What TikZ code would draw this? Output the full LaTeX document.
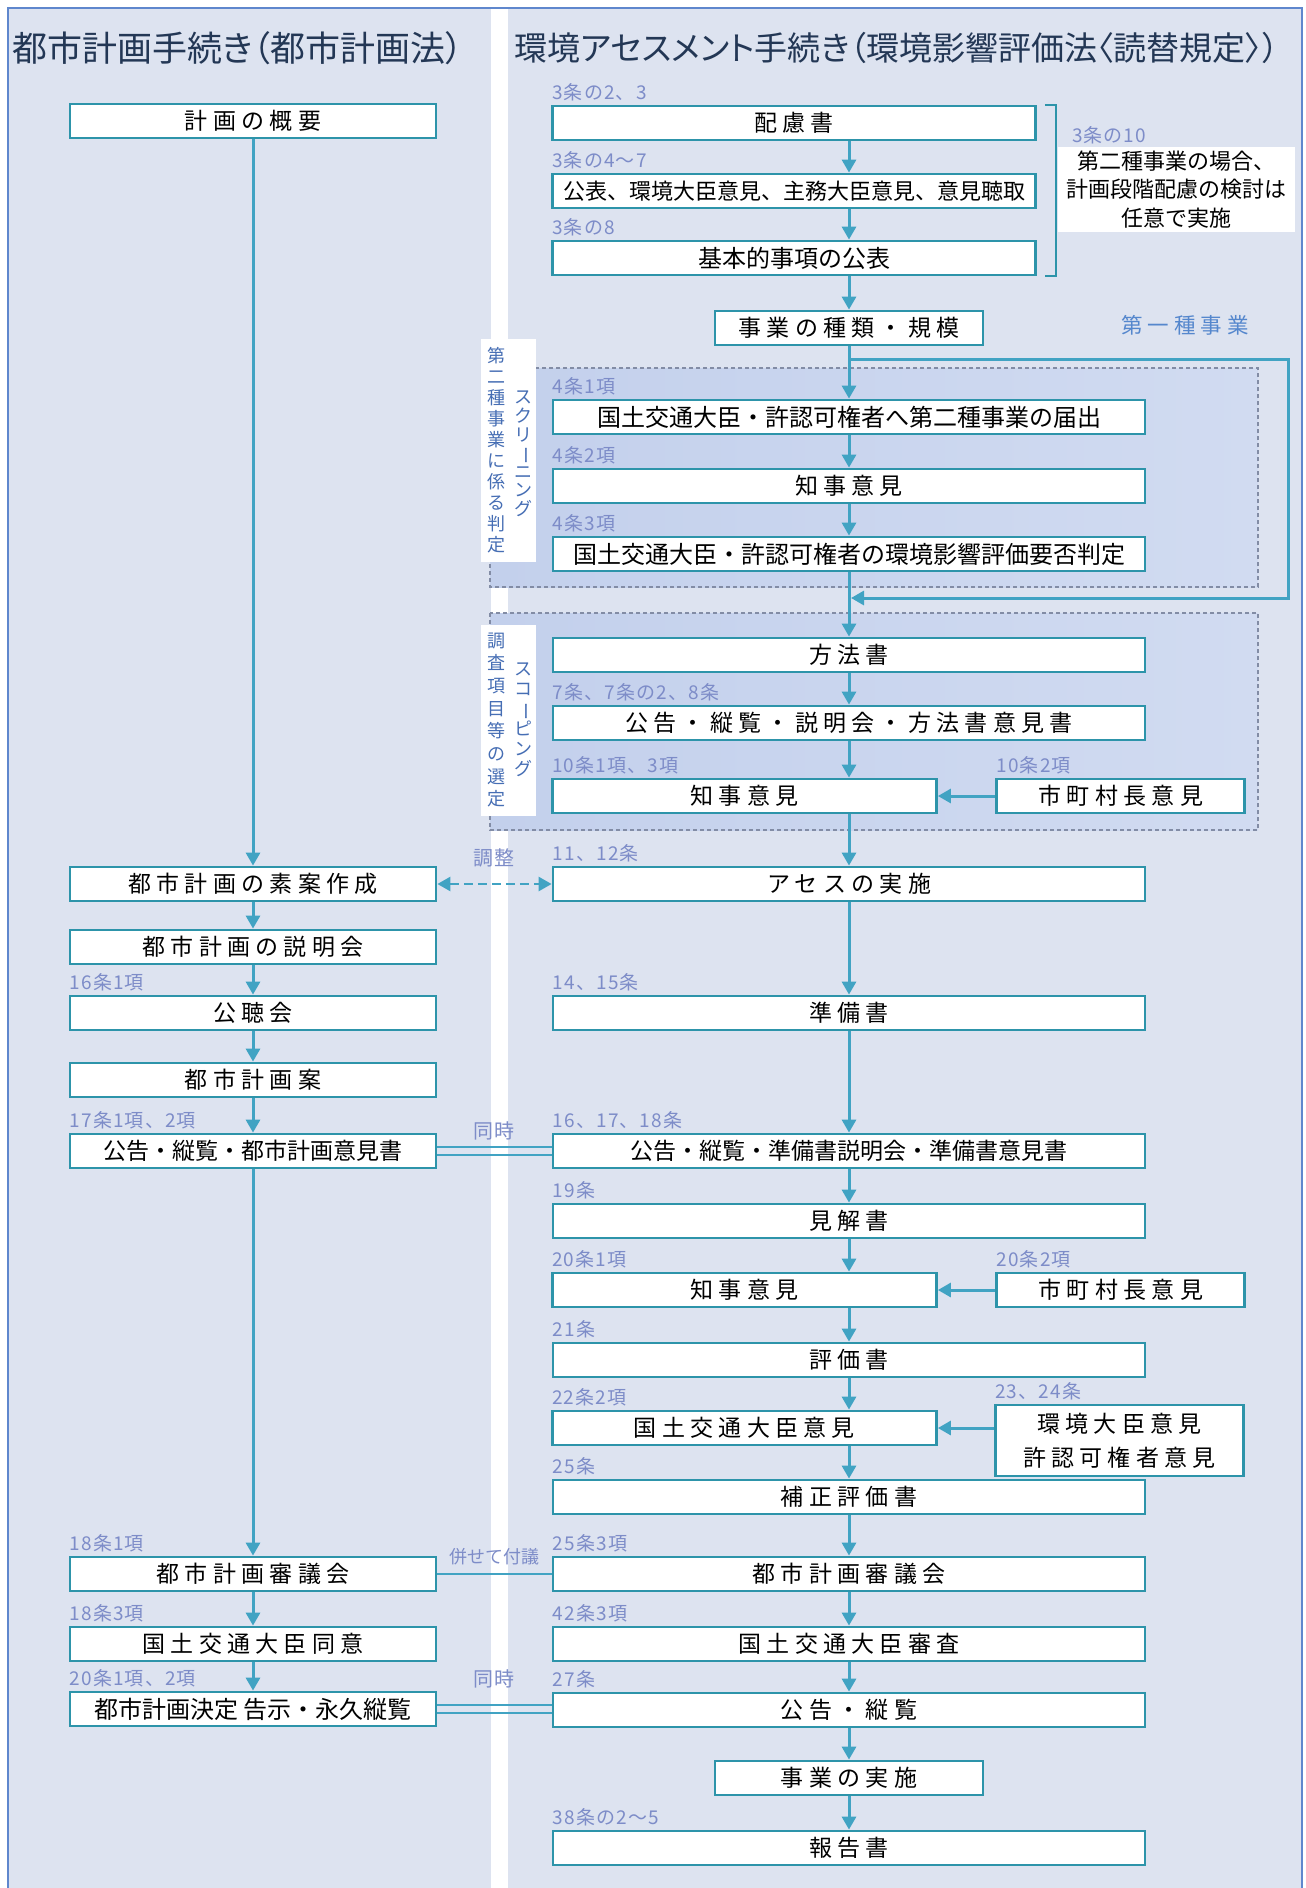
\documentclass[tikz,border=0pt]{standalone}
\usepackage{fontspec}
\setmainfont{Noto Sans CJK JP}
\newfontfamily\spreadfont[LetterSpace=23]{Noto Sans CJK JP}
\newfontfamily\labelfont[LetterSpace=6]{Noto Sans CJK JP}
\newfontfamily\titlefont[RawFeature=+palt]{Noto Sans CJK JP}
\usepackage{graphicx}
\usetikzlibrary{arrows.meta,positioning,calc}
\definecolor{panelbg}{RGB}{221,227,240}
\definecolor{panelline}{RGB}{95,135,205}
\definecolor{boxline}{RGB}{45,148,170}
\definecolor{arrcol}{RGB}{65,163,195}
\definecolor{artcol}{RGB}{125,140,200}
\definecolor{titlecol}{RGB}{35,55,85}
\definecolor{zoneA}{RGB}{195,208,236}
\definecolor{zoneB}{RGB}{209,219,241}
\definecolor{zoneline}{RGB}{130,140,165}
\definecolor{tagcol}{RGB}{70,110,180}
\definecolor{kindcol}{RGB}{85,135,205}

% long vowel mark for vertical labels
\newcommand{\chouon}{\rotatebox[origin=c]{-90}{ー}}

\begin{document}
\begin{tikzpicture}[
    x=1pt, y=-1pt,
    procbox/.style={draw=boxline, fill=white, line width=2.8pt, minimum width=#1,
                    minimum height=34pt, inner sep=0pt,
                    font=\spreadfont\fontsize{23}{26}\selectfont},
    procbox/.default=592pt,
    tight/.style={font=\rmfamily\fontsize{#1}{26}\selectfont},
    tight/.default=23,
    artlabel/.style={font=\labelfont\fontsize{19}{21}\selectfont, text=artcol, inner sep=1pt,
                     anchor=south west, yshift=2pt},
    linklabel/.style={font=\labelfont\fontsize{20}{22}\selectfont, text=artcol, inner sep=1pt},
    titletext/.style={font=\titlefont\fontsize{#1}{38}\selectfont, text=titlecol, inner sep=0pt, anchor=west},
    arr/.style={-{Triangle[width=14pt,length=13pt]}, line width=3pt, draw=arrcol},
    link/.style={line width=2.5pt, draw=arrcol},
    zone/.style={draw=zoneline, dash pattern=on 4pt off 3pt, line width=1.2pt,
                 left color=zoneA, right color=zoneB},
    tagbox/.style={fill=white, inner sep=0pt},
    tagtext/.style={text=tagcol, align=center, inner sep=0pt, font=\fontsize{18}{#1}\selectfont},
]
\useasboundingbox (0,0) rectangle (1306,1888);

% ============ PANELS ============
\fill[panelbg] (8,8) rectangle (1302,1900);
\fill[white] (491,9) rectangle (508,1900);
\draw[panelline, line width=2pt] (8,1900) -- (8,8) -- (1302,8) -- (1302,1900);

\node[titletext=35] (lefttitle) at (12,48) {都市計画手続き（都市計画法）};
\node[titletext=33] (righttitle) at (514,48) {環境アセスメント手続き（環境影響評価法〈読替規定〉）};

% screening / scoping zones
\draw[zone] (490,368) rectangle (1258,587);
\draw[zone] (490,613) rectangle (1258,830);

\node[tagbox, minimum width=55pt, minimum height=223pt] (scrtag) at (508.5,450.5) {};
\node[tagtext=21pt] (scrtxtB) at (496.5,450) {第\\二\\種\\事\\業\\に\\係\\る\\判\\定};
\node[tagtext=18.6pt] (scrtxtA) at (523.6,454) {ス\\ク\\リ\\\chouon\\ニ\\ン\\グ};

\node[tagbox, minimum width=55pt, minimum height=191pt] (scptag) at (508.5,720.5) {};
\node[tagtext=22.7pt] (scptxtB) at (496.5,720) {調\\査\\項\\目\\等\\の\\選\\定};
\node[tagtext=20pt] (scptxtA) at (523.6,720) {ス\\コ\\\chouon\\ピ\\ン\\グ};

% ============ LEFT: CITY PLANNING ============
\node[procbox=366pt] (gaiyo) at (253,121) {計画の概要};
\node[procbox=366pt] (soan) at (253,884) {都市計画の素案作成};
\node[procbox=366pt] (setsumei) at (253,947) {都市計画の説明会};
\node[procbox=366pt] (kochokai) at (253,1013) {公聴会};
\node[procbox=366pt] (keikakuan) at (253,1080) {都市計画案};
\node[procbox=366pt, tight] (kokokoL) at (253,1151) {公告・縦覧・都市計画意見書};
\node[procbox=366pt] (shingiL) at (253,1574) {都市計画審議会};
\node[procbox=366pt] (doi) at (253,1644) {国土交通大臣同意};
\node[procbox=366pt, tight=24] (kettei) at (253,1709) {都市計画決定\ 告示・永久縦覧};

\node[artlabel] (a-kochokai) at (kochokai.north west) {16条1項};
\node[artlabel] (a-kokokoL) at (kokokoL.north west) {17条1項、2項};
\node[artlabel] (a-shingiL) at (shingiL.north west) {18条1項};
\node[artlabel] (a-doi) at (doi.north west) {18条3項};
\node[artlabel] (a-kettei) at (kettei.north west) {20条1項、2項};

\draw[arr] (gaiyo) -- (soan);
\draw[arr] (soan) -- (setsumei);
\draw[arr] (setsumei) -- (kochokai);
\draw[arr] (kochokai) -- (keikakuan);
\draw[arr] (keikakuan) -- (kokokoL);
\draw[arr] (kokokoL) -- (shingiL);
\draw[arr] (shingiL) -- (doi);
\draw[arr] (doi) -- (kettei);

% ============ RIGHT: ASSESSMENT ============
\coordinate (spine) at (849,0);

\node[procbox=483pt] (hairyo) at (794,123) {配慮書};
\node[procbox=483pt, tight=22] (kohyo) at (794,191) {公表、環境大臣意見、主務大臣意見、意見聴取};
\node[procbox=483pt, tight=24] (kihon) at (794,258) {基本的事項の公表};
\node[procbox=268pt] (shurui) at (849,328) {事業の種類・規模};

\node[procbox, tight=24] (todokede) at (849,417) {国土交通大臣・許認可権者へ第二種事業の届出};
\node[procbox] (chijiA) at (849,486) {知事意見};
\node[procbox, tight=24] (yohi) at (849,554) {国土交通大臣・許認可権者の環境影響評価要否判定};

\node[procbox] (hoho) at (849,655) {方法書};
\node[procbox] (kokokoA) at (849,723) {公告・縦覧・説明会・方法書意見書};
\node[procbox=384pt] (chijiB) at (744.5,796) {知事意見};
\node[procbox=248pt, right=57.5pt of chijiB] (shichoA) {市町村長意見};

\node[procbox] (jisshi) at (849,884) {アセスの実施};
\node[procbox] (junbi) at (849,1013) {準備書};
\node[procbox, tight] (kokokoB) at (849,1151) {公告・縦覧・準備書説明会・準備書意見書};
\node[procbox] (kenkai) at (849,1221) {見解書};
\node[procbox=384pt] (chijiC) at (744.5,1290) {知事意見};
\node[procbox=248pt, right=57.5pt of chijiC] (shichoB) {市町村長意見};
\node[procbox] (hyoka) at (849,1360) {評価書};
\node[procbox=384pt] (daijin) at (744.5,1428) {国土交通大臣意見};
\node[procbox=248pt, minimum height=71pt, align=center, anchor=north west,
      font=\spreadfont\fontsize{23}{34}\selectfont] (kankyo) at (994,1403.5) {環境大臣意見\\許認可権者意見};
\node[procbox] (hosei) at (849,1497) {補正評価書};
\node[procbox] (shingiR) at (849,1574) {都市計画審議会};
\node[procbox] (shinsa) at (849,1644) {国土交通大臣審査};
\node[procbox] (kokokoC) at (849,1710) {公告・縦覧};
\node[procbox=268pt] (jigyo) at (849,1778) {事業の実施};
\node[procbox] (hokoku) at (849,1848) {報告書};

% article numbers
\node[artlabel] (a-hairyo) at (hairyo.north west) {3条の2、3};
\node[artlabel] (a-kohyo) at (kohyo.north west) {3条の4～7};
\node[artlabel] (a-kihon) at (kihon.north west) {3条の8};
\node[artlabel] (a-todokede) at (todokede.north west) {4条1項};
\node[artlabel] (a-chijiA) at (chijiA.north west) {4条2項};
\node[artlabel] (a-yohi) at (yohi.north west) {4条3項};
\node[artlabel] (a-kokokoA) at (kokokoA.north west) {7条、7条の2、8条};
\node[artlabel] (a-chijiB) at (chijiB.north west) {10条1項、3項};
\node[artlabel] (a-shichoA) at (shichoA.north west) {10条2項};
\node[artlabel] (a-jisshi) at (jisshi.north west) {11、12条};
\node[artlabel] (a-junbi) at (junbi.north west) {14、15条};
\node[artlabel] (a-kokokoB) at (kokokoB.north west) {16、17、18条};
\node[artlabel] (a-kenkai) at (kenkai.north west) {19条};
\node[artlabel] (a-chijiC) at (chijiC.north west) {20条1項};
\node[artlabel] (a-shichoB) at (shichoB.north west) {20条2項};
\node[artlabel] (a-hyoka) at (hyoka.north west) {21条};
\node[artlabel] (a-daijin) at (daijin.north west) {22条2項};
\node[artlabel] (a-kankyo) at (kankyo.north west) {23、24条};
\node[artlabel] (a-hosei) at (hosei.north west) {25条};
\node[artlabel] (a-shingiR) at (shingiR.north west) {25条3項};
\node[artlabel] (a-shinsa) at (shinsa.north west) {42条3項};
\node[artlabel] (a-kokokoC) at (kokokoC.north west) {27条};
\node[artlabel] (a-hokoku) at (hokoku.north west) {38条の2～5};

% optional consideration note beside the bracket
\draw[boxline, line width=2pt] ([xshift=8pt]hairyo.north east) -- ++(11,0)
  |- ([xshift=8pt]kihon.south east);
\node[fill=white, minimum width=237pt, minimum height=85pt, align=center, inner sep=0pt,
      font=\fontsize{22}{28.5}\selectfont] (note) at (1176.5,189.5)
  {第二種事業の場合、\\計画段階配慮の検討は\\任意で実施};
\node[artlabel] (a-note) at ([xshift=13pt]note.north west) {3条の10};

% spine arrows
\draw[arr] (hairyo.south -| spine) -- (kohyo.north -| spine);
\draw[arr] (kohyo.south -| spine) -- (kihon.north -| spine);
\draw[arr] (kihon.south -| spine) -- (shurui);
\draw[arr] (shurui) -- (todokede);
\draw[arr] (todokede) -- (chijiA);
\draw[arr] (chijiA) -- (yohi);
\draw[arr] (yohi) -- (hoho);
\draw[arr] (hoho) -- (kokokoA);
\draw[arr] (kokokoA) -- (chijiB.north -| spine);
\draw[arr] (shichoA) -- (chijiB);
\draw[arr] (chijiB.south -| spine) -- (jisshi);
\draw[arr] (jisshi) -- (junbi);
\draw[arr] (junbi) -- (kokokoB);
\draw[arr] (kokokoB) -- (kenkai);
\draw[arr] (kenkai) -- (chijiC.north -| spine);
\draw[arr] (shichoB) -- (chijiC);
\draw[arr] (chijiC.south -| spine) -- (hyoka);
\draw[arr] (hyoka) -- (daijin.north -| spine);
\draw[arr] (kankyo.west |- daijin) -- (daijin);
\draw[arr] (daijin.south -| spine) -- (hosei);
\draw[arr] (hosei) -- (shingiR);
\draw[arr] (shingiR) -- (shinsa);
\draw[arr] (shinsa) -- (kokokoC);
\draw[arr] (kokokoC) -- (jigyo);
\draw[arr] (jigyo) -- (hokoku);

% first-kind projects skip the screening
\coordinate (branch) at (849,359);
\coordinate (firstcorner) at (1288,359);
\coordinate (rejoin) at (851,598);
\draw[arr] (branch) -- (firstcorner) |- (rejoin);
\node[font=\spreadfont\fontsize{21.5}{24}\selectfont, text=kindcol, inner sep=0pt] (firstkind) at (1185,325) {第一種事業};

% ============ LINKS BETWEEN PROCEDURES ============
\draw[link, dash pattern=on 9pt off 5pt,
      {Triangle[width=14pt,length=13pt]}-{Triangle[width=14pt,length=13pt]}] (soan) -- (jisshi);
\node[linklabel] (chosei) at (494,858) {調整};

\draw[link, line width=2pt] ([yshift=4pt]kokokoL.east) -- ([yshift=4pt]kokokoL.east -| kokokoB.west);
\draw[link, line width=2pt] ([yshift=-4pt]kokokoL.east) -- ([yshift=-4pt]kokokoL.east -| kokokoB.west);
\node[linklabel] (doji1) at (494,1131) {同時};

\draw[link] (shingiL) -- (shingiR);
\node[linklabel, font=\fontsize{18}{20}\selectfont] (fugi) at (494,1557) {併せて付議};

\draw[link, line width=2pt] ([yshift=4pt]kettei.east) -- ([yshift=4pt]kettei.east -| kokokoC.west);
\draw[link, line width=2pt] ([yshift=-4pt]kettei.east) -- ([yshift=-4pt]kettei.east -| kokokoC.west);
\node[linklabel] (doji2) at (494,1679) {同時};

\end{tikzpicture}
\end{document}
